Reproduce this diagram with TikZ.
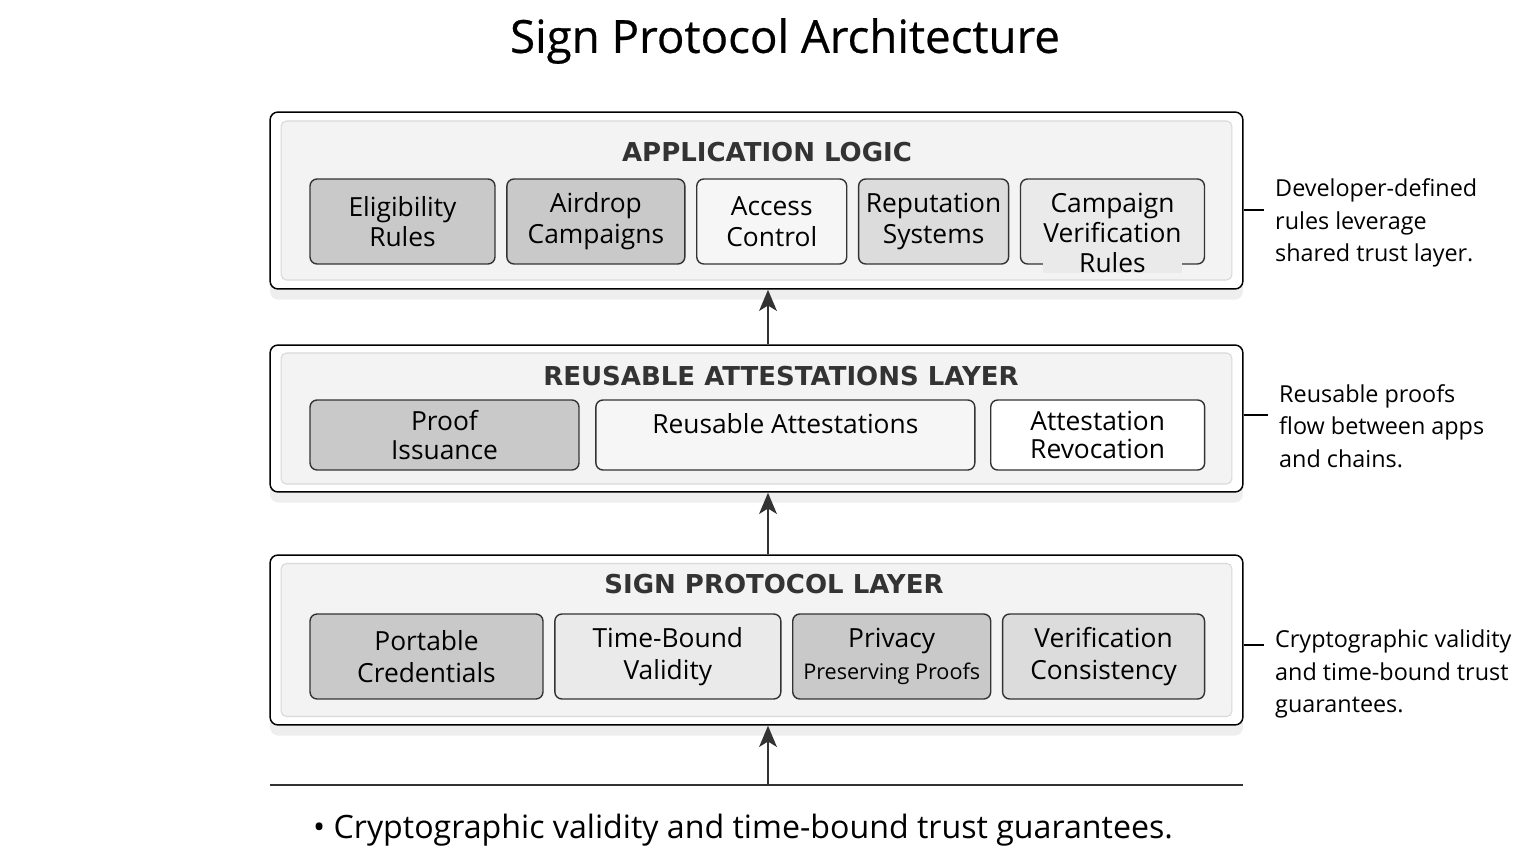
\documentclass[tikz,border=0pt]{standalone}
\usepackage{fontspec}
\setmainfont{Open Sans}
\newfontfamily\headfont{DejaVu Sans}
\usetikzlibrary{arrows.meta, positioning, shadows}
\definecolor{inkgray}{HTML}{333333}
\definecolor{panelgray}{HTML}{F3F3F3}
\definecolor{paneledge}{HTML}{D9D9D9}
\definecolor{darkfill}{HTML}{C9C9C9}
\definecolor{midfill}{HTML}{DCDCDC}
\definecolor{softfill}{HTML}{EAEAEA}
\definecolor{palefill}{HTML}{F6F6F6}

\begin{document}
\begin{tikzpicture}[x=0.02cm, y=-0.02cm,
  layerbox/.style={rectangle, rounded corners=4.5pt, draw=black, line width=0.85pt,
               fill=white, drop shadow={shadow xshift=0pt, shadow yshift=-6pt, opacity=0.13}},
  panel/.style={rectangle, rounded corners=3pt, draw=paneledge, fill=panelgray,
               line width=0.6pt},
  itembox/.style={rectangle, rounded corners=4pt, draw=inkgray, line width=0.8pt,
               minimum height=1.7cm, align=center, inner sep=2pt,
               font=\fontsize{15}{17.5}\selectfont},
  layertitle/.style={font=\headfont\fontsize{14.8}{17}\selectfont\bfseries, text=inkgray},
  arrow/.style={-{Stealth[length=12pt, width=10pt, inset=3pt]}, line width=1.6pt, color=inkgray},
  note/.style={font=\fontsize{13.3}{18.6}\selectfont, align=left, anchor=west},
  tick/.style={line width=0.7pt, color=black, shorten >=3pt},
]
\useasboundingbox (0,0) rectangle (1536,864);
\fill[white] (0,0) rectangle (1536,864);
\coordinate (spine) at (768,0);

\node[font=\fontsize{26}{30}\selectfont\addfontfeature{FakeBold=0.5}] (title) at (785,41)
  {Sign Protocol Architecture};

% application logic
\node[layerbox, minimum width=19.46cm, minimum height=3.54cm] (app) at (756.5,200.5) {};
\node[panel, minimum width=19.02cm, minimum height=3.18cm] (appin) at (app.center) {};
\node[layertitle] (apptitle) at (767,152) {APPLICATION LOGIC};
\node[itembox, fill=darkfill, minimum width=3.7cm] (elig) at (402.5,221.5) {Eligibility\\Rules};
\node[itembox, fill=darkfill, minimum width=3.56cm, right=0.21cm of elig] (air) {Airdrop\\Campaigns};
\node[itembox, fill=palefill, minimum width=3.0cm, right=0.21cm of air] (acc) {Access\\Control};
\node[itembox, fill=midfill, minimum width=3.0cm, right=0.21cm of acc] (rep) {Reputation\\Systems};
\node[itembox, fill=softfill, minimum width=3.68cm, right=0.21cm of rep] (camp) {};
\node[font=\fontsize{15}{17}\selectfont, align=center, fill=softfill, inner sep=0pt]
  (camptext) at ([yshift=-0.23cm]camp.center) {Campaign\\Verification\\Rules};

% attestations
\node[layerbox, minimum width=19.46cm, minimum height=2.94cm] (attest) at (756.5,418.5) {};
\node[panel, minimum width=19.02cm, minimum height=2.62cm] (attestin) at (attest.center) {};
\node[layertitle] (attesttitle) at (781,376) {REUSABLE ATTESTATIONS LAYER};
\node[itembox, fill=darkfill, minimum width=5.38cm, minimum height=1.4cm,
  font=\fontsize{15}{16}\selectfont] (issue) at (444.5,435) {Proof\\Issuance};
\node[itembox, fill=palefill, minimum width=7.58cm, minimum height=1.4cm,
  font=\fontsize{15}{16}\selectfont, right=0.31cm of issue] (reuse) {Reusable Attestations\\[-8pt]\strut};
\node[itembox, fill=white, minimum width=4.28cm, minimum height=1.4cm,
  font=\fontsize{15}{16}\selectfont, right=0.29cm of reuse] (revoke) {Attestation\\Revocation};

% sign protocol
\node[layerbox, minimum width=19.46cm, minimum height=3.4cm] (sign) at (756.5,640) {};
\node[panel, minimum width=19.02cm, minimum height=3.06cm] (signin) at (sign.center) {};
\node[layertitle] (signtitle) at (774,584) {SIGN PROTOCOL LAYER};
\node[itembox, fill=darkfill, minimum width=4.66cm, font=\fontsize{15}{18}\selectfont]
  (port) at (426.5,656.5) {Portable\\Credentials};
\node[itembox, fill=softfill, minimum width=4.52cm, font=\fontsize{15}{18}\selectfont,
  right=0.21cm of port] (valid) {Time-Bound\\Validity};
\node[itembox, fill=darkfill, minimum width=3.96cm, font=\fontsize{15}{18}\selectfont,
  right=0.21cm of valid] (priv) {Privacy\\{\fontsize{12.3}{14}\selectfont Preserving Proofs}};
\node[itembox, fill=midfill, minimum width=4.04cm, font=\fontsize{15}{18}\selectfont,
  right=0.21cm of priv] (cons) {Verification\\Consistency};

% flow
\coordinate (baseL) at (270,785);
\coordinate (baseR) at (1243,785);
\draw[line width=0.8pt, color=inkgray] (baseL) -- (baseR);
\draw[arrow] (baseL -| spine) -- (sign.south -| spine);
\draw[arrow] (sign.north -| spine) -- (attest.south -| spine);
\draw[arrow] (attest.north -| spine) -- (app.south -| spine);

\node[font=\fontsize{18.3}{22}\selectfont, anchor=west] (bullet) at (307,830)
  {\textbullet\ Cryptographic validity and time-bound trust guarantees.};

% side notes
\node[note] (appnote) at (1269,223) {Developer-defined\\rules leverage\\shared trust layer.};
\node[note] (attnote) at (1273,426) {Reusable proofs\\flow between apps\\and chains.};
\node[note] (signnote) at (1269,674) {Cryptographic validity\\and time-bound trust\\guarantees.};
\draw[tick] ([yshift=-0.19cm]app.east) -- ([yshift=-0.19cm]app.east -| appnote.west);
\draw[tick] ([yshift=0.07cm]attest.east) -- ([yshift=0.07cm]attest.east -| attnote.west);
\draw[tick] ([yshift=-0.1cm]sign.east) -- ([yshift=-0.1cm]sign.east -| signnote.west);
\end{tikzpicture}
\end{document}
